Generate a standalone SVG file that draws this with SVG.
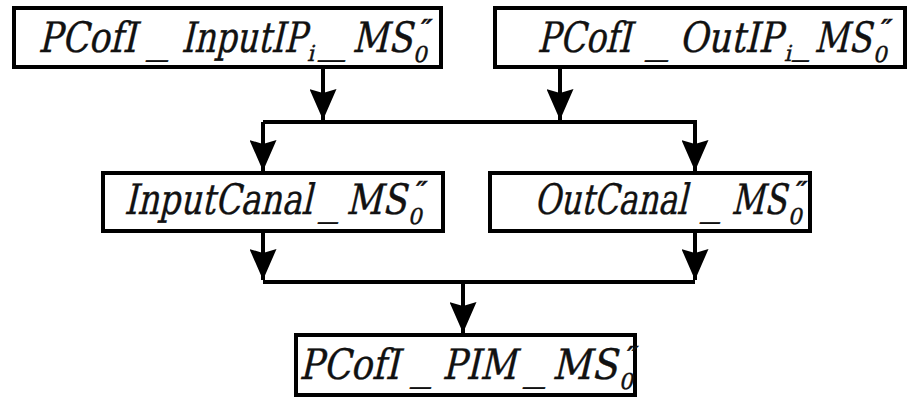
<svg xmlns="http://www.w3.org/2000/svg" width="912" height="398" viewBox="0 0 912 398">
<defs>
<marker id="ah" viewBox="0 0 31 27" refX="31" refY="13.5" markerWidth="31" markerHeight="27" markerUnits="userSpaceOnUse" orient="auto">
<path d="M0,0 L31,13.5 L0,27 L4,13.5 z" fill="#000"/>
</marker>
<style>
.box{fill:#fff;stroke:#000;stroke-width:4}
text{font-family:'DejaVu Serif','Liberation Serif','Times New Roman',serif;fill:#111;stroke:#111;stroke-width:0.4}
.t{font-size:42px}
.s{font-size:22px}
.p{font-size:26px;font-weight:bold}
.ln{fill:none;stroke:#000;stroke-width:4}
</style>
</defs>
<rect width="912" height="398" fill="#fff"/>
<g id="connectors">
<path class="ln" d="M323,67 V120" marker-end="url(#ah)"/>
<path class="ln" d="M560,67 V120" marker-end="url(#ah)"/>
<path class="ln" d="M263,122 H695 V171" marker-end="url(#ah)"/>
<path class="ln" d="M263,122 V171" marker-end="url(#ah)"/>
<path class="ln" d="M263,231 V280" marker-end="url(#ah)"/>
<path class="ln" d="M695,231 V280" marker-end="url(#ah)"/>
<path class="ln" d="M263,282 H695"/>
<path class="ln" d="M463,282 V333" marker-end="url(#ah)"/>
</g>
<g id="n1">
<rect class="box" x="14" y="8" width="427" height="59"/>
<g transform="translate(0,52) skewX(-13) translate(0,-52)">
<text class="t" x="38" y="52" textLength="98" lengthAdjust="spacingAndGlyphs">PCofI</text>
<text class="t" x="148" y="52" textLength="22" lengthAdjust="spacingAndGlyphs">_</text>
<text class="t" x="181" y="52" textLength="125" lengthAdjust="spacingAndGlyphs">InputIP</text>
<text class="s" x="309" y="61">i</text>
<text class="t" x="320" y="52" textLength="27" lengthAdjust="spacingAndGlyphs">_</text>
<text class="t" x="352" y="52" textLength="60" lengthAdjust="spacingAndGlyphs">MS</text>
<text class="p" x="414" y="38">″</text>
<text class="s" x="415" y="62">0</text>
</g>
</g>
<g id="n2">
<rect class="box" x="495" y="8" width="410" height="59"/>
<g transform="translate(0,52) skewX(-13) translate(0,-52)">
<text class="t" x="537" y="52" textLength="94" lengthAdjust="spacingAndGlyphs">PCofI</text>
<text class="t" x="647" y="52" textLength="23" lengthAdjust="spacingAndGlyphs">_</text>
<text class="t" x="679" y="52" textLength="103" lengthAdjust="spacingAndGlyphs">OutIP</text>
<text class="s" x="786" y="61">i</text>
<text class="t" x="794" y="52" textLength="17" lengthAdjust="spacingAndGlyphs">_</text>
<text class="t" x="814" y="52" textLength="57" lengthAdjust="spacingAndGlyphs">MS</text>
<text class="p" x="874" y="38">″</text>
<text class="s" x="875" y="62">0</text>
</g>
</g>
<g id="n3">
<rect class="box" x="103" y="173" width="340" height="58"/>
<g transform="translate(0,214) skewX(-13) translate(0,-214)">
<text class="t" x="124" y="214" textLength="188" lengthAdjust="spacingAndGlyphs">InputCanal</text>
<text class="t" x="320" y="214" textLength="20" lengthAdjust="spacingAndGlyphs">_</text>
<text class="t" x="346" y="214" textLength="60" lengthAdjust="spacingAndGlyphs">MS</text>
<text class="p" x="409" y="200">″</text>
<text class="s" x="410" y="224">0</text>
</g>
</g>
<g id="n4">
<rect class="box" x="490" y="173" width="320" height="58"/>
<g transform="translate(0,214) skewX(-13) translate(0,-214)">
<text class="t" x="534" y="214" textLength="153" lengthAdjust="spacingAndGlyphs">OutCanal</text>
<text class="t" x="702" y="214" textLength="20" lengthAdjust="spacingAndGlyphs">_</text>
<text class="t" x="731" y="214" textLength="55" lengthAdjust="spacingAndGlyphs">MS</text>
<text class="p" x="789" y="200">″</text>
<text class="s" x="790" y="224">0</text>
</g>
</g>
<g id="n5">
<rect class="box" x="296" y="335" width="339" height="60"/>
<g transform="translate(0,379) skewX(-13) translate(0,-379)">
<text class="t" x="299" y="379" textLength="100" lengthAdjust="spacingAndGlyphs">PCofI</text>
<text class="t" x="412" y="379" textLength="21" lengthAdjust="spacingAndGlyphs">_</text>
<text class="t" x="442" y="379" textLength="74" lengthAdjust="spacingAndGlyphs">PIM</text>
<text class="t" x="525" y="379" textLength="22" lengthAdjust="spacingAndGlyphs">_</text>
<text class="t" x="552" y="379" textLength="65" lengthAdjust="spacingAndGlyphs">MS</text>
<text class="p" x="620" y="365">″</text>
<text class="s" x="621" y="389">0</text>
</g>
</g>
</svg>
